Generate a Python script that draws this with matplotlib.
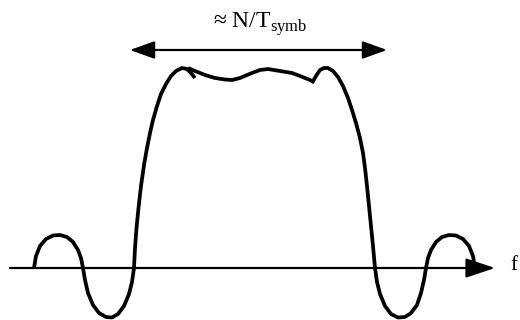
import matplotlib
matplotlib.use("Agg")
import matplotlib.pyplot as plt

plt.rcParams['font.family'] = ['Liberation Serif', 'DejaVu Serif']
plt.rcParams['mathtext.fontset'] = 'custom'
plt.rcParams['mathtext.rm'] = 'Liberation Serif'

# spectrum sketch: frequency (x) vs amplitude (a)
left_x = [34, 36, 40, 46, 53, 60, 67, 73, 78, 81, 83,
          85, 88, 93, 99, 106, 112, 118, 124, 129, 132, 134,
          135, 136.5, 138.5, 141, 144, 147, 150, 153, 157, 161, 166, 171, 176, 182, 187, 191, 195]
left_a = [0, 12, 22, 29, 32.5, 33, 31, 26, 18, 10, 0,
          -12, -25, -37, -45, -49, -49.5, -46, -38, -26, -14, 0,
          20, 40, 60, 82, 103, 120, 135, 148, 162, 174, 184, 192, 197, 200, 199, 195, 190]

top_x = [188, 195, 205, 215, 225, 232, 240, 247, 252, 260, 268, 280, 292, 300, 310, 314]
top_a = [200, 197, 193, 190, 188.5, 188, 190, 193, 195, 198, 199, 197, 195, 192, 188, 186]

right_x = [312, 316, 320, 324, 328, 333, 338, 343, 348, 352, 356, 360, 363, 365, 367, 369, 371, 373, 375,
           377, 380, 385, 391, 398, 405, 411, 417, 421, 424, 426,
           428, 431, 436, 442, 449, 456, 463, 469, 473, 475]
right_a = [185, 192, 198, 200, 200, 197, 191, 182, 170, 158, 145, 130, 115, 100, 82, 62, 42, 22, 0,
           -14, -26, -38, -46, -49.5, -49, -45, -37, -25, -12, 0,
           10, 18, 26, 31, 33, 32.5, 29, 22, 12, 0]

axis_start, axis_end = 10, 495
band_lo, band_hi = 130, 387
band_label = "≈ N/T$_{\\mathrm{symb}}$"

fig = plt.figure(figsize=(5.2, 3.2), dpi=100)
ax = fig.add_axes([0, 0, 1, 1])
ax.set_xlim(0, 520)
ax.set_ylim(-52, 268)
ax.axis('off')

# frequency axis
ax.annotate("", xy=(axis_end, 0), xytext=(axis_start, 0),
            arrowprops=dict(arrowstyle="-|>,head_length=0.9,head_width=0.3",
                            color='black', lw=1.6, shrinkA=0, shrinkB=0,
                            mutation_scale=20))
ax.text(510, -2, "f", fontsize=15, ha='left', va='baseline')

for xs, ys in [(left_x, left_a), (top_x, top_a), (right_x, right_a)]:
    ax.plot(xs, ys, color='black', lw=2.7, solid_capstyle='butt', solid_joinstyle='round')

# bandwidth arrow
ax.annotate("", xy=(band_hi, 218), xytext=(band_lo, 218),
            arrowprops=dict(arrowstyle="<|-|>,head_length=0.75,head_width=0.27",
                            color='black', lw=1.6, shrinkA=0, shrinkB=0,
                            mutation_scale=20))
ax.text(260, 240, band_label, fontsize=17, ha='center', va='baseline')

fig.savefig("out.png", dpi=100)
